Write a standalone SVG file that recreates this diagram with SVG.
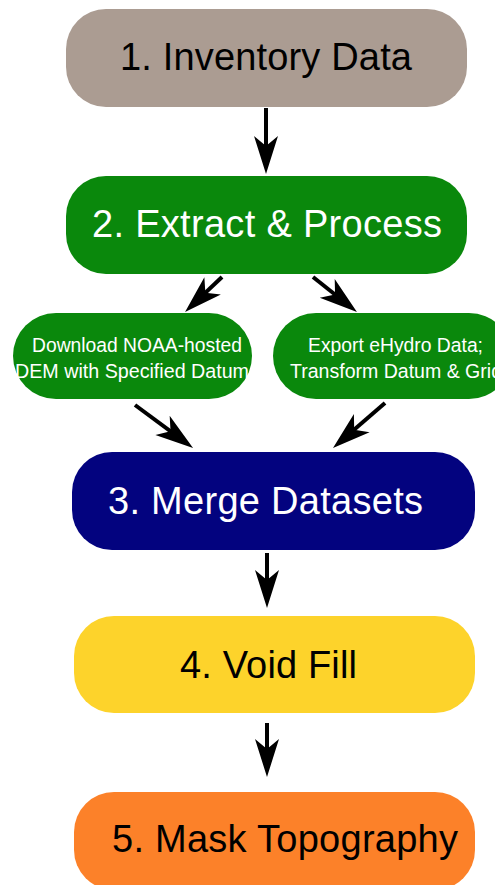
<svg xmlns="http://www.w3.org/2000/svg" width="495" height="885" viewBox="0 0 495 885">
<style>
.big{font-family:"Liberation Sans",Arial,sans-serif;font-size:38px}
.sm{font-family:"Liberation Sans",Arial,sans-serif;font-size:20.5px;fill:#fff}
.conn{stroke:#000;stroke-width:4;fill:none;marker-end:url(#ah)}
</style>
<defs>
<marker id="ah" markerUnits="userSpaceOnUse" viewBox="-38 -13 40 26" markerWidth="40" markerHeight="26" refX="-14" refY="0" orient="auto" overflow="visible">
<path d="M0,0 L-38,-12 L-28,0 L-38,12 Z" fill="#000"/>
</marker>
</defs>
<rect width="495" height="885" fill="#fff"/>
<g id="n1"><rect x="66" y="9" width="401" height="98" rx="40" fill="#ab9c92"/><text class="big" x="120" y="70" textLength="292" fill="#000">1. Inventory Data</text></g>
<g id="n2"><rect x="66" y="176" width="401" height="98" rx="40" fill="#0a880c"/><text class="big" x="92" y="237" textLength="350" fill="#fff">2. Extract &amp; Process</text></g>
<g id="n2a"><rect x="13" y="313" width="239" height="86" rx="43" fill="#0a880c"/><text class="sm" x="32" y="352" textLength="210" lengthAdjust="spacingAndGlyphs">Download NOAA-hosted</text><text class="sm" x="15" y="378" textLength="234" lengthAdjust="spacingAndGlyphs">DEM with Specified Datum</text></g>
<g id="n2b"><rect x="273" y="313" width="239" height="86" rx="43" fill="#0a880c"/><text class="sm" x="308" y="352" textLength="175" lengthAdjust="spacingAndGlyphs">Export eHydro Data;</text><text class="sm" x="290" y="378" textLength="212" lengthAdjust="spacingAndGlyphs">Transform Datum &amp; Grid</text></g>
<g id="n3"><rect x="72" y="452" width="403" height="98" rx="40" fill="#03037f"/><text class="big" x="108" y="514" textLength="315" fill="#fff">3. Merge Datasets</text></g>
<g id="n4"><rect x="74" y="616" width="401" height="97" rx="40" fill="#fdd32b"/><text class="big" x="180" y="678" textLength="177" fill="#000">4. Void Fill</text></g>
<g id="n5"><rect x="74" y="792" width="401" height="98" rx="40" fill="#fc8129"/><text class="big" x="112" y="852" textLength="346" fill="#000">5. Mask Topography</text></g>
<g id="connectors">
<line class="conn" x1="266" y1="108" x2="266" y2="160"/>
<line class="conn" x1="222" y1="277" x2="195.2" y2="302.4"/>
<line class="conn" x1="313" y1="277" x2="346" y2="303.3"/>
<line class="conn" x1="135" y1="405" x2="181.8" y2="439.7"/>
<line class="conn" x1="385" y1="403" x2="343.6" y2="438.8"/>
<line class="conn" x1="267" y1="553" x2="267" y2="594"/>
<line class="conn" x1="267" y1="723" x2="267" y2="763"/>
</g>
</svg>
